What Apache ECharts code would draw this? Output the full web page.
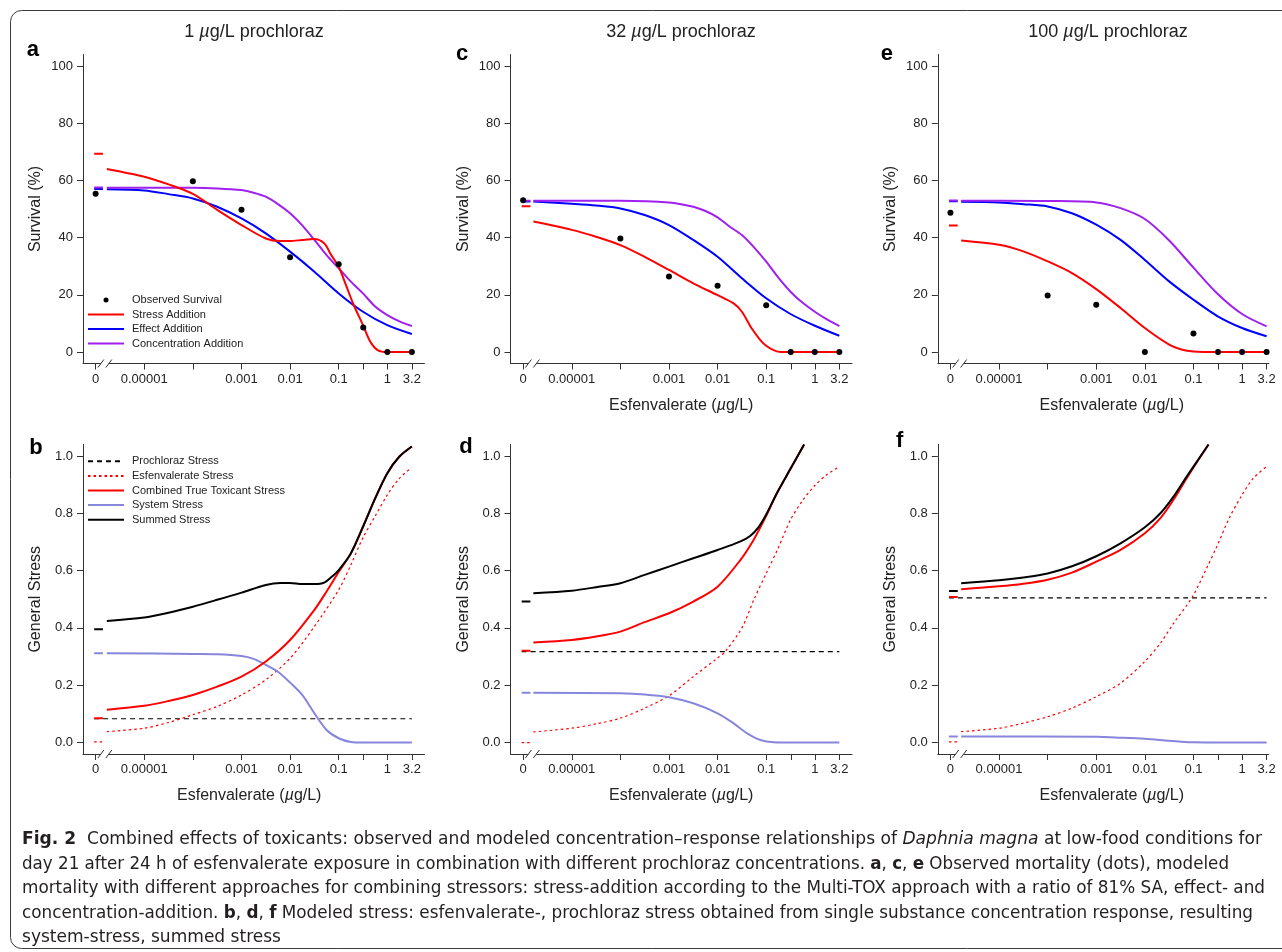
<!DOCTYPE html>
<html>
<head>
<meta charset="utf-8">
<script src="https://cdn.jsdelivr.net/npm/echarts@6/dist/echarts.min.js"></script>
<style>
  html, body { margin: 0; background: #fff; }
  #main { width: 1282px; height: 952px; }
</style>
</head>
<body>
<div id="main"></div>
<script>
// ---- x positions (log10 of esfenvalerate, µg/L); concentration 0 is drawn at 1e-6
var ZERO_AT = -6;
var CTRL_SPAN = [-6.03, -5.85];
var BREAK_AT = -5.81;
var xTickConc = [0, 0.00001, 0.0001, 0.001, 0.01, 0.1, 0.32, 1, 3.2];
var xLabelConc = [0, 0.00001, 0.001, 0.01, 0.1, 1, 3.2];
var xLabelText = ["0", "0.00001", "0.001", "0.01", "0.1", "1", "3.2"];
var survTicks = [0, 20, 40, 60, 80, 100];
var stressTicks = [0, 0.2, 0.4, 0.6, 0.8, 1.0];

// ---- observed survival (%)
var obsConc = [0, 0.0001, 0.001, 0.01, 0.1, 0.32, 1, 3.2];
var obsA = [55.3, 59.7, 49.7, 33.1, 30.7, 8.6, 0, 0];
var obsC = [53.1, 39.7, 26.4, 23.2, 16.4, 0, 0, 0];
var obsE = [48.7, 19.8, 16.5, 0, 6.5, 0, 0, 0];

// ---- modelled survival, panel a (1 µg/L prochloraz)
var aSaX = [-5.77, -5, -4.5, -4, -3.5, -3, -2.5, -2.2, -2, -1.75, -1.5, -1.3, -1.15, -1, -0.85, -0.7, -0.5, -0.35, -0.2, 0, 0.505];
var aSaY = [64.0, 61.3, 58.6, 55.3, 49.7, 44.4, 39.7, 38.8, 38.8, 39.2, 39.5, 38.0, 33.8, 29.8, 23.4, 16.8, 9.4, 3.6, 0.7, 0, 0];
var aEaX = [-5.77, -5, -4.5, -4, -3.5, -3, -2.5, -2, -1.5, -1, -0.5, 0, 0.505];
var aEaY = [56.9, 56.5, 55.2, 53.7, 50.8, 46.7, 41.5, 35.1, 28.1, 20.5, 14.1, 9.4, 6.3];
var aCaX = [-5.77, -5, -4, -3.5, -3, -2.75, -2.5, -2.25, -2, -1.75, -1.5, -1.25, -1, -0.75, -0.5, -0.25, 0, 0.25, 0.505];
var aCaY = [57.4, 57.4, 57.4, 57.2, 56.6, 55.7, 54.3, 51.7, 48.5, 44.3, 39.2, 33.9, 29.3, 24.6, 20.5, 15.9, 12.9, 10.7, 9.1];
var aCtrl = [69.3, 57.0, 57.5]; // SA, EA, CA at 0

// ---- panel c (32 µg/L)
var cSaX = [-5.79, -5, -4.5, -4, -3.5, -3, -2.5, -2, -1.67, -1.5, -1.3, -1.12, -1, -0.85, -0.7, -0.5, 0, 0.505];
var cSaY = [45.6, 42.7, 40.3, 37.4, 33.3, 28.7, 24.0, 19.9, 17.0, 14.1, 8.3, 4.2, 2.2, 0.7, 0, 0, 0, 0];
var cEaX = [-5.79, -5, -4.5, -4, -3.5, -3, -2.5, -2, -1.5, -1, -0.5, 0, 0.505];
var cEaY = [52.6, 51.8, 51.2, 50.2, 47.9, 44.4, 39.2, 33.3, 25.8, 18.8, 13.3, 9.2, 5.7];
var cCaX = [-5.79, -5, -4, -3, -2.5, -2.25, -2, -1.75, -1.5, -1.25, -1, -0.75, -0.5, -0.25, 0, 0.25, 0.505];
var cCaY = [52.9, 52.9, 52.9, 52.3, 50.8, 49.3, 47.1, 43.8, 40.9, 36.6, 31.6, 26.0, 21.1, 17.2, 14.1, 11.4, 9.1];
var cCtrl = [51.0, 52.6, 52.9];

// ---- panel e (100 µg/L)
var eSaX = [-5.78, -5, -4.5, -4, -3.5, -3, -2.5, -2, -1.5, -1.25, -1, -0.5, 0, 0.505];
var eSaY = [39.0, 37.5, 35.2, 31.7, 27.6, 22.0, 15.4, 8.4, 2.6, 0.9, 0.2, 0, 0, 0];
var eEaX = [-5.78, -5, -4.5, -4, -3.5, -3, -2.5, -2, -1.5, -1, -0.5, 0, 0.505];
var eEaY = [52.5, 52.3, 51.7, 50.9, 48.5, 44.5, 39.2, 32.2, 24.7, 18.3, 12.5, 8.4, 5.5];
var eCaX = [-5.78, -5, -4, -3, -2.5, -2, -1.5, -1, -0.5, 0, 0.505];
var eCaY = [52.9, 52.9, 52.8, 52.3, 50.3, 46.5, 39.0, 29.5, 20.3, 13.3, 9.0];
var eCtrl = [44.2, 52.7, 53.0];

// ---- modelled stress, panel b
var bSumX = [-5.77, -5, -4.5, -4, -3.5, -3, -2.5, -2.2, -2, -1.75, -1.5, -1.3, -1.1, -1, -0.75, -0.5, -0.25, 0, 0.25, 0.505];
var bSumY = [0.424, 0.436, 0.453, 0.474, 0.498, 0.523, 0.550, 0.557, 0.557, 0.553, 0.553, 0.558, 0.585, 0.602, 0.660, 0.753, 0.852, 0.940, 0.998, 1.033];
var bComX = [-5.77, -5, -4.5, -4, -3.5, -3, -2.5, -2, -1.5, -1.25, -1, -0.75, -0.5, -0.25, 0, 0.25, 0.505];
var bComY = [0.114, 0.128, 0.145, 0.166, 0.195, 0.230, 0.283, 0.358, 0.463, 0.527, 0.595, 0.660, 0.753, 0.852, 0.940, 0.998, 1.033];
var bEsfX = [-5.77, -5, -4.5, -4, -3.5, -3, -2.5, -2, -1.5, -1, -0.75, -0.5, -0.25, 0, 0.25, 0.505];
var bEsfY = [0.038, 0.050, 0.070, 0.097, 0.126, 0.166, 0.219, 0.294, 0.405, 0.533, 0.620, 0.715, 0.790, 0.864, 0.922, 0.960];
var bSysX = [-5.77, -4, -3.5, -3, -2.75, -2.5, -2.25, -2, -1.75, -1.5, -1.25, -1, -0.75, -0.5, 0.505];
var bSysY = [0.312, 0.309, 0.308, 0.302, 0.292, 0.271, 0.247, 0.209, 0.166, 0.102, 0.044, 0.015, 0.002, 0, 0];
var bProch = 0.083;
var bCtrl = [0.395, 0.085, 0.312, 0.002]; // summed, combined, system, esfenvalerate at 0

// ---- panel d
var dSumX = [-5.79, -5, -4.5, -4, -3.5, -3, -2.5, -2, -1.54, -1.33, -1.16, -1, -0.78, -0.5, -0.22];
var dSumY = [0.521, 0.530, 0.542, 0.556, 0.585, 0.614, 0.643, 0.672, 0.701, 0.721, 0.751, 0.796, 0.870, 0.955, 1.040];
var dComX = [-5.79, -5, -4.5, -4, -3.5, -3, -2.5, -2, -1.54, -1.26, -1, -0.78, -0.5, -0.22];
var dComY = [0.349, 0.358, 0.370, 0.387, 0.420, 0.451, 0.492, 0.544, 0.635, 0.707, 0.791, 0.870, 0.955, 1.040];
var dEsfX = [-5.79, -5, -4.5, -4, -3.5, -3, -2.5, -2, -1.85, -1.5, -1.25, -1, -0.75, -0.5, -0.25, 0, 0.25, 0.505];
var dEsfY = [0.037, 0.050, 0.065, 0.085, 0.120, 0.163, 0.230, 0.295, 0.316, 0.400, 0.500, 0.590, 0.680, 0.777, 0.845, 0.897, 0.935, 0.963];
var dSysX = [-5.79, -4, -3.5, -3, -2.5, -2, -1.67, -1.4, -1.12, -0.85, -0.5, 0.505];
var dSysY = [0.174, 0.172, 0.168, 0.158, 0.137, 0.102, 0.067, 0.033, 0.009, 0.001, 0, 0];
var dProch = 0.317;
var dCtrl = [0.492, 0.320, 0.174, 0.0];

// ---- panel f
var fSumX = [-5.78, -5, -4.5, -4, -3.5, -3, -2.5, -2, -1.68, -1.41, -1.14, -1, -0.69];
var fSumY = [0.556, 0.566, 0.576, 0.590, 0.615, 0.650, 0.695, 0.751, 0.800, 0.858, 0.928, 0.963, 1.040];
var fComX = [-5.78, -5, -4.5, -4, -3.5, -3, -2.5, -2, -1.68, -1.41, -1.14, -1, -0.69];
var fComY = [0.535, 0.545, 0.554, 0.568, 0.593, 0.631, 0.672, 0.730, 0.783, 0.847, 0.922, 0.960, 1.040];
var fEsfX = [-5.78, -5, -4.5, -4, -3.5, -3, -2.5, -2, -1.68, -1.41, -1.03, -0.73, -0.52, -0.25, 0, 0.23, 0.505];
var fEsfY = [0.038, 0.050, 0.068, 0.090, 0.120, 0.160, 0.207, 0.283, 0.347, 0.416, 0.506, 0.608, 0.684, 0.788, 0.864, 0.922, 0.963];
var fSysX = [-5.78, -3, -2.5, -2, -1.5, -1.25, -1, -0.5, 0.505];
var fSysY = [0.021, 0.020, 0.017, 0.013, 0.006, 0.003, 0.001, 0, 0];
var fProch = 0.505;
var fCtrl = [0.529, 0.508, 0.021, 0.002];

// ---- styling / layout
var FONT = "'Liberation Sans', Arial, Helvetica, sans-serif";
var CAP_FAMILY = "'Liberation Sans Narrow', 'DejaVu Sans Condensed', 'Roboto Condensed', 'Liberation Sans', sans-serif";
var RED = "#ff0000", BLUE = "#0000ff", PURPLE = "#a020f0", SYS = "#8686dc", BLACK = "#000000";
var AXIS = "#333333", TXT = "#222222";

var cols = [
  { left: 83, width: 341.5, xmax: 0.765 },
  { left: 510.5, width: 341.5, xmax: 0.765 },
  { left: 937.8, width: 331, xmax: 0.55 }
];
var rows = [
  { top: 54.5, height: 309, ymin: -4, ymax: 104 },
  { top: 444.5, height: 309.5, ymin: -0.04, ymax: 1.04 }
];

function toX(c) { return c === 0 ? ZERO_AT : Math.log10(c); }
function pairs(xs, ys) { return xs.map(function (x, i) { return [x, ys[i]]; }); }

var xLabelPos = xLabelConc.map(toX);

var grids = [], xAxes = [], yAxes = [], series = [];

// panel index: 0 a, 1 c, 2 e, 3 b, 4 d, 5 f
function addPanel(idx, col, row, xName, namePadX) {
  var c = cols[col], r = rows[row];
  grids.push({ left: c.left, top: r.top, width: c.width, height: r.height, outerBoundsMode: "none" });
  xAxes.push({
    type: "value", gridIndex: idx, min: -6.26, max: c.xmax,
    axisLine: { show: true, onZero: false, lineStyle: { color: AXIS, width: 1 } },
    axisTick: { show: true, inside: false, length: 6, customValues: xTickConc.map(toX), lineStyle: { color: AXIS } },
    axisLabel: {
      show: true, margin: 9, color: TXT, fontSize: 13, fontFamily: FONT,
      customValues: xLabelPos,
      formatter: function (v) {
        for (var i = 0; i < xLabelPos.length; i++) if (Math.abs(xLabelPos[i] - v) < 1e-6) return xLabelText[i];
        return "";
      }
    },
    splitLine: { show: false },
    name: xName ? "Esfenvalerate ({i|\u00b5}g/L)" : "",
    nameLocation: "middle", nameGap: 34,
    nameTextStyle: {
      color: TXT, fontSize: 16, fontFamily: FONT, padding: namePadX || 0,
      rich: { i: { fontStyle: "italic", fontSize: 16, fontFamily: FONT, color: TXT } }
    }
  });
  var ticks = row === 0 ? survTicks : stressTicks;
  yAxes.push({
    type: "value", gridIndex: idx, min: r.ymin, max: r.ymax,
    axisLine: { show: true, onZero: false, lineStyle: { color: AXIS, width: 1 } },
    axisTick: { show: true, inside: false, length: 6, customValues: ticks, lineStyle: { color: AXIS } },
    axisLabel: {
      show: true, margin: 10, color: TXT, fontSize: 13, fontFamily: FONT, customValues: ticks,
      formatter: function (v) { return row === 0 ? String(Math.round(v)) : v.toFixed(1); }
    },
    splitLine: { show: false },
    name: row === 0 ? "Survival (%)" : "General Stress",
    nameLocation: "middle", nameGap: 39, nameRotate: 90,
    nameTextStyle: { color: TXT, fontSize: 16, fontFamily: FONT }
  });
  // axis break mark on the x axis
  series.push({
    type: "custom", xAxisIndex: idx, yAxisIndex: idx, silent: true, z: 6, clip: false,
    data: [[BREAK_AT, r.ymin]],
    renderItem: function (params, api) {
      var p = api.coord([api.value(0), api.value(1)]);
      var st = { stroke: AXIS, lineWidth: 1 };
      return {
        type: "group",
        children: [
          { type: "rect", shape: { x: p[0] - 4, y: p[1] - 2, width: 8, height: 4 }, style: { fill: "#fff" } },
          { type: "line", shape: { x1: p[0] - 7, y1: p[1] + 4, x2: p[0] - 1, y2: p[1] - 4 }, style: st },
          { type: "line", shape: { x1: p[0] + 1, y1: p[1] + 4, x2: p[0] + 7, y2: p[1] - 4 }, style: st }
        ]
      };
    }
  });
}

function curve(idx, name, xs, ys, color, width, dash, z) {
  series.push({
    type: "line", name: name, xAxisIndex: idx, yAxisIndex: idx,
    data: pairs(xs, ys), symbol: "none", showSymbol: false,
    smooth: 0.3, clip: true, silent: true, z: z,
    lineStyle: { color: color, width: width, type: dash || "solid" },
    itemStyle: { color: color }
  });
}
function ctrlMark(idx, value, color, width, dash, z) {
  series.push({
    type: "line", name: "ctrl", xAxisIndex: idx, yAxisIndex: idx,
    data: [[CTRL_SPAN[0], value], [CTRL_SPAN[1], value]], symbol: "none", showSymbol: false,
    silent: true, z: z, lineStyle: { color: color, width: width, type: dash || "solid" }
  });
}

// top row: survival
var topSets = [
  { obs: obsA, sa: [aSaX, aSaY], ea: [aEaX, aEaY], ca: [aCaX, aCaY], ctrl: aCtrl },
  { obs: obsC, sa: [cSaX, cSaY], ea: [cEaX, cEaY], ca: [cCaX, cCaY], ctrl: cCtrl },
  { obs: obsE, sa: [eSaX, eSaY], ea: [eEaX, eEaY], ca: [eCaX, eCaY], ctrl: eCtrl }
];
topSets.forEach(function (s, k) {
  var idx = k;
  addPanel(idx, k, 0, k > 0, k === 2 ? [0, 0, 0, 17] : 0);
  curve(idx, "Effect Addition", s.ea[0], s.ea[1], BLUE, 2, null, 3);
  curve(idx, "Concentration Addition", s.ca[0], s.ca[1], PURPLE, 2, null, 4);
  curve(idx, "Stress Addition", s.sa[0], s.sa[1], RED, 2, null, 5);
  ctrlMark(idx, s.ctrl[1], BLUE, 2, null, 3);
  ctrlMark(idx, s.ctrl[2], PURPLE, 2, [9, 3], 4);
  ctrlMark(idx, s.ctrl[0], RED, 2, null, 5);
  series.push({
    type: "scatter", name: "Observed Survival", xAxisIndex: idx, yAxisIndex: idx,
    data: obsConc.map(function (c, i) { return [toX(c), s.obs[i]]; }),
    symbol: "circle", symbolSize: 6, itemStyle: { color: BLACK, opacity: 1 }, silent: true, z: 8
  });
});

// bottom row: stress
var botSets = [
  { sum: [bSumX, bSumY], com: [bComX, bComY], esf: [bEsfX, bEsfY], sys: [bSysX, bSysY], proch: bProch, ctrl: bCtrl },
  { sum: [dSumX, dSumY], com: [dComX, dComY], esf: [dEsfX, dEsfY], sys: [dSysX, dSysY], proch: dProch, ctrl: dCtrl },
  { sum: [fSumX, fSumY], com: [fComX, fComY], esf: [fEsfX, fEsfY], sys: [fSysX, fSysY], proch: fProch, ctrl: fCtrl }
];
botSets.forEach(function (s, k) {
  var idx = 3 + k;
  addPanel(idx, k, 1, true, k === 0 ? [0, 9, 0, 0] : (k === 2 ? [0, 0, 0, 17] : 0));
  curve(idx, "Prochloraz Stress", [CTRL_SPAN[0], 0.505], [s.proch, s.proch], BLACK, 1.2, [5, 4], 2);
  curve(idx, "Esfenvalerate Stress", s.esf[0], s.esf[1], RED, 1.2, [2.5, 3], 3);
  curve(idx, "System Stress", s.sys[0], s.sys[1], SYS, 2, null, 4);
  curve(idx, "Combined True Toxicant Stress", s.com[0], s.com[1], RED, 2, null, 5);
  curve(idx, "Summed Stress", s.sum[0], s.sum[1], BLACK, 2, null, 6);
  ctrlMark(idx, s.ctrl[3], RED, 1.2, [2.5, 3], 3);
  ctrlMark(idx, s.ctrl[2], SYS, 2, [9, 3], 4);
  ctrlMark(idx, s.ctrl[1], RED, 2, null, 5);
  ctrlMark(idx, s.ctrl[0], BLACK, 2, null, 6);
});

// ---- texts: frame, titles, panel letters, caption
var graphics = [];
graphics.push({
  type: "rect", silent: true, z: -10,
  shape: { x: 10.5, y: 10.5, width: 1300, height: 938, r: 11 },
  style: { fill: "none", stroke: "#3c3c3c", lineWidth: 1 }
});

var titleText = ["1 ", "32 ", "100 "];
var titleX = [254, 681, 1108];
titleText.forEach(function (t, i) {
  graphics.push({
    type: "text", x: titleX[i], y: 32, silent: true,
    style: {
      text: "{n|" + t + "}{i|\u00b5}{n|g/L prochloraz}", align: "center", verticalAlign: "middle",
      rich: {
        n: { fontSize: 18, fontFamily: FONT, fill: TXT },
        i: { fontSize: 18, fontFamily: FONT, fontStyle: "italic", fill: TXT }
      }
    }
  });
});

var letters = [["a", 26.7, 49.7], ["c", 456, 54], ["e", 880.7, 54], ["b", 29.3, 448.4], ["d", 459.3, 447.4], ["f", 896, 440.7]];
letters.forEach(function (l) {
  graphics.push({
    type: "text", x: l[1], y: l[2], silent: true,
    style: { text: l[0], fontSize: 22, fontWeight: "bold", fontFamily: FONT, fill: "#000", align: "left", verticalAlign: "middle" }
  });
});

var CAP_SIZE = 17;
var captionLines = [
  [["b", "Fig. 2"], ["n", "  Combined effects of toxicants: observed and modeled concentration\u2013response relationships of "], ["i", "Daphnia magna"], ["n", " at low-food conditions for"]],
  [["n", "day 21 after 24 h of esfenvalerate exposure in combination with different prochloraz concentrations. "], ["b", "a"], ["n", ", "], ["b", "c"], ["n", ", "], ["b", "e"], ["n", " Observed mortality (dots), modeled"]],
  [["n", "mortality with different approaches for combining stressors: stress-addition according to the Multi-TOX approach with a ratio of 81% SA, effect- and"]],
  [["n", "concentration-addition. "], ["b", "b"], ["n", ", "], ["b", "d"], ["n", ", "], ["b", "f"], ["n", " Modeled stress: esfenvalerate-, prochloraz stress obtained from single substance concentration response, resulting"]],
  [["n", "system-stress, summed stress"]]
];
var captionY = [840, 864.5, 889, 913.5, 938];
var captionWidth = [1240, 1207, 1243, 1231, 259];
var ctx = document.createElement("canvas").getContext("2d");
function capFont(k) {
  return (k === "i" ? "italic " : "") + (k === "b" ? "bold " : "") + CAP_SIZE + "px " + CAP_FAMILY;
}
function lineWidth(segs) {
  var w = 0;
  segs.forEach(function (s) { ctx.font = capFont(s[0]); w += ctx.measureText(s[1]).width; });
  return w;
}
var capRich = {
  n: { fontSize: CAP_SIZE, fontFamily: CAP_FAMILY, fill: "#231f20" },
  b: { fontSize: CAP_SIZE, fontFamily: CAP_FAMILY, fontWeight: "bold", fill: "#231f20" },
  i: { fontSize: CAP_SIZE, fontFamily: CAP_FAMILY, fontStyle: "italic", fill: "#231f20" }
};
captionLines.forEach(function (segs, i) {
  graphics.push({
    type: "text", x: 22, y: captionY[i], scaleX: captionWidth[i] / lineWidth(segs), silent: true,
    style: {
      text: segs.map(function (s) { return "{" + s[0] + "|" + s[1] + "}"; }).join(""),
      align: "left", verticalAlign: "middle", rich: capRich
    }
  });
});

var legendText = { fontSize: 11, fontFamily: FONT, color: TXT, padding: [0, 0, 0, 3] };
function lineItem(name) { return { name: name, itemStyle: { opacity: 0 } }; }

var option = {
  animation: false,
  backgroundColor: "#ffffff",
  textStyle: { fontFamily: FONT },
  grid: grids,
  xAxis: xAxes,
  yAxis: yAxes,
  legend: [
    {
      left: 87, top: 292.8, orient: "vertical", padding: 0, itemGap: 0,
      itemWidth: 36, itemHeight: 5, selectedMode: false,
      data: [{ name: "Observed Survival" }, lineItem("Stress Addition"), lineItem("Effect Addition"), lineItem("Concentration Addition")],
      textStyle: Object.assign({ lineHeight: 14.5 }, legendText)
    },
    {
      left: 87, top: 454, orient: "vertical", padding: 0, itemGap: 0,
      itemWidth: 36, itemHeight: 5, selectedMode: false,
      data: ["Prochloraz Stress", "Esfenvalerate Stress", "Combined True Toxicant Stress", "System Stress", "Summed Stress"].map(lineItem),
      textStyle: Object.assign({ lineHeight: 14.6 }, legendText)
    }
  ],
  graphic: graphics,
  series: series
};

var chart = echarts.init(document.getElementById("main"));
chart.setOption(option);
window.addEventListener("resize", function () { chart.resize(); });
</script>
</body>
</html>
